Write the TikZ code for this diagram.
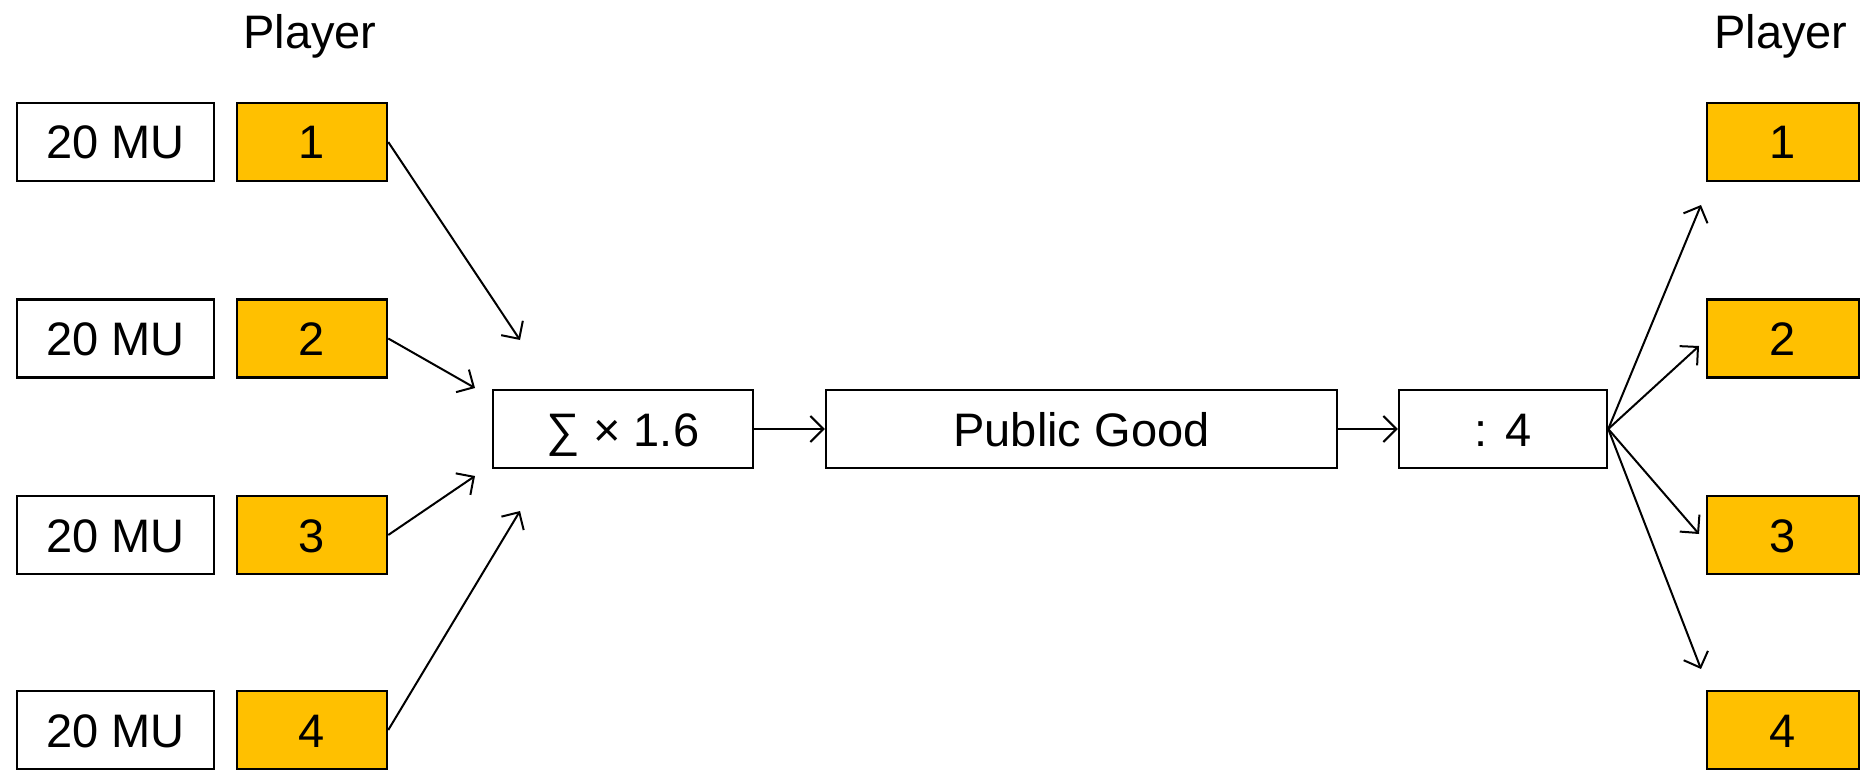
\documentclass[tikz,border=0pt]{standalone}
\usepackage{fontspec}
\setmainfont{Liberation Sans}
\usetikzlibrary{arrows.meta}
\definecolor{gold}{HTML}{FFC000}
\begin{document}
\begin{tikzpicture}[x=1pt,y=-1pt,
  box/.style={draw,line width=2.5pt,inner sep=0pt,minimum height=78pt,text height=34pt,text depth=0pt,font=\fontsize{47}{50}\selectfont},
  mu/.style={box,minimum width=197pt},
  pl/.style={box,fill=gold,minimum width=150pt},
  lab/.style={inner sep=0pt,text height=34pt,text depth=0pt,font=\fontsize{47}{50}\selectfont},
  arr/.style={line width=2pt,-{Straight Barb[length=13pt,width=26pt,line width=2pt]}}]
\useasboundingbox (0,0) rectangle (1872,770);
\node[lab] (pl) at (310,32) {Player};
\node[lab] (pr) at (1781,32) {Player};
\node[mu] (m1) at (115.5,142) {20 MU};
\node[mu] (m2) at (115.5,338.5) {20 MU};
\node[mu] (m3) at (115.5,535) {20 MU};
\node[mu] (m4) at (115.5,730) {20 MU};
\node[pl] (l1) at (312,142) {1};
\node[pl] (l2) at (312,338.5) {2};
\node[pl] (l3) at (312,535) {3};
\node[pl] (l4) at (312,730) {4};
\node[box,minimum width=260pt] (sum) at (623,429) {∑ × 1.6};
\node[box,minimum width=511pt] (pg) at (1081.5,429) {Public Good};
\node[box,minimum width=208pt] (div) at (1503,429) {: 4};
\node[pl,minimum width=152pt] (r1) at (1783,142) {1};
\node[pl,minimum width=152pt] (r2) at (1783,338.5) {2};
\node[pl,minimum width=152pt] (r3) at (1783,535) {3};
\node[pl,minimum width=152pt] (r4) at (1783,730) {4};
\coordinate (t1) at (520,340);
\coordinate (t2) at (475,388);
\coordinate (t3) at (475,476);
\coordinate (t4) at (520,511);
\coordinate (u1) at (1701,205);
\coordinate (u2) at (1699,346);
\coordinate (u3) at (1699,534);
\coordinate (u4) at (1701,669);
\draw[arr] (l1.east) -- (t1);
\draw[arr] (l2.east) -- (t2);
\draw[arr] (l3.east) -- (t3);
\draw[arr] (l4.east) -- (t4);
\draw[arr] (sum) -- (pg);
\draw[arr] (pg) -- (div);
\draw[arr] (div.east) -- (u1);
\draw[arr] (div.east) -- (u2);
\draw[arr] (div.east) -- (u3);
\draw[arr] (div.east) -- (u4);
\end{tikzpicture}
\end{document}
